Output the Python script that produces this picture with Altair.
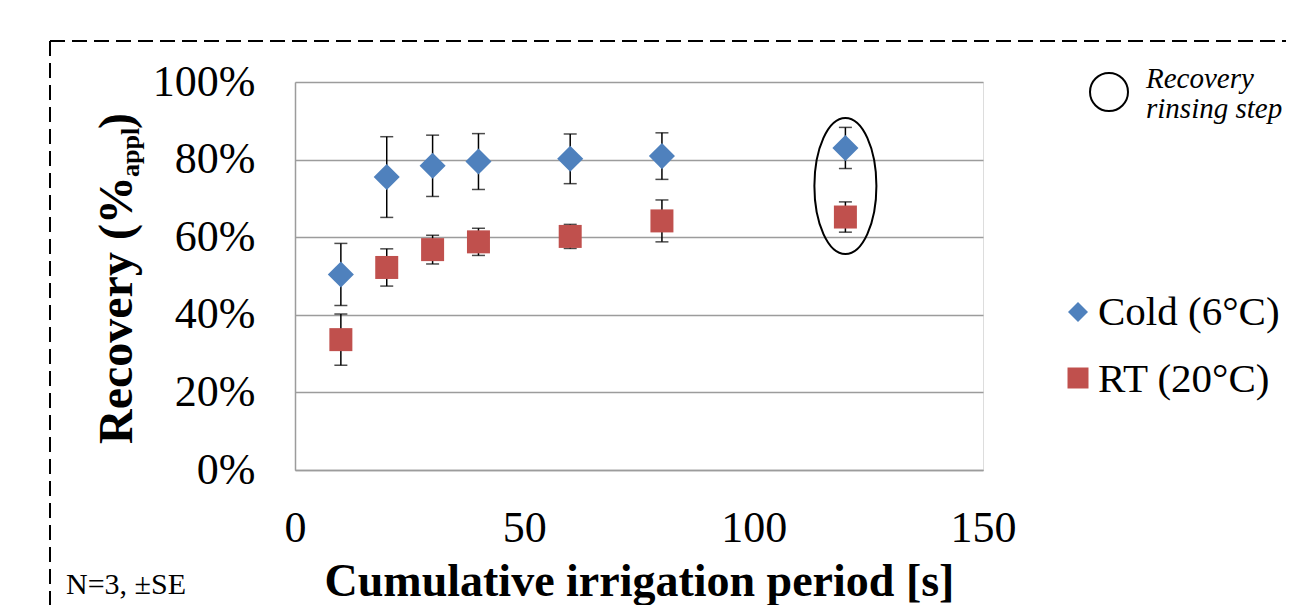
import altair as alt
import pandas as pd

# ---- data ----
period = [10, 20, 30, 40, 60, 80, 120]
cold_mean = [0.504, 0.755, 0.784, 0.795, 0.802, 0.809, 0.830]
cold_se = [0.080, 0.104, 0.079, 0.072, 0.064, 0.060, 0.053]
rt_mean = [0.336, 0.522, 0.568, 0.588, 0.602, 0.642, 0.652]
rt_se = [0.066, 0.048, 0.037, 0.035, 0.031, 0.054, 0.039]
x_ticks = [0, 50, 100, 150]
y_ticks = [0, 0.2, 0.4, 0.6, 0.8, 1.0]
series_names = ["Cold (6°C)", "RT (20°C)"]
highlight_x = [120]
highlight_y = [0.732]

rows = []
for name, means, ses in [(series_names[0], cold_mean, cold_se), (series_names[1], rt_mean, rt_se)]:
    for p, m, s in zip(period, means, ses):
        rows.append({"series": name, "period": p, "mean": m, "lo": m - s, "hi": m + s})
df = pd.DataFrame(rows)
cold_df = df[df.series == series_names[0]]
rt_df = df[df.series == series_names[1]]
hl_df = pd.DataFrame({"period": highlight_x, "mean": highlight_y})
one = pd.DataFrame({"k": [0]})

SERIF = "Liberation Serif"
BLUE = "#4F81BD"
RED = "#C0504D"
GRID = "#9c9c9c"

xs = alt.Scale(domain=[0, 150], nice=False, zero=False)
ys = alt.Scale(domain=[0, 1], nice=False)

x_enc = alt.X("period:Q", scale=xs, axis=alt.Axis(
    values=x_ticks, title="Cumulative irrigation period [s]", grid=False, ticks=False,
    domain=True, domainColor=GRID, domainWidth=1.5, labelFlush=False,
    labelFont=SERIF, labelFontSize=44, labelColor="black", labelPadding=36,
    titleFont=SERIF, titleFontSize=46, titleFontWeight="bold", titleColor="black",
    titleY=125, titleBaseline="alphabetic"))
y_enc = alt.Y("mean:Q", scale=ys, axis=alt.Axis(
    values=y_ticks, format=".0%", title="", grid=True, gridColor=GRID, gridWidth=1.5,
    ticks=False, domain=True, domainColor=GRID, domainWidth=1.5, labelFlush=False,
    labelFont=SERIF, labelFontSize=44, labelColor="black", labelPadding=40))

base = alt.Chart(df)

err_rule = base.mark_rule(color="black", strokeWidth=1.5).encode(
    x=x_enc, y=alt.Y("lo:Q", scale=ys), y2="hi:Q")
cap_lo = base.mark_tick(orient="horizontal", size=13, thickness=1.5, color="black").encode(
    x=alt.X("period:Q", scale=xs), y=alt.Y("lo:Q", scale=ys))
cap_hi = base.mark_tick(orient="horizontal", size=13, thickness=1.5, color="black").encode(
    x=alt.X("period:Q", scale=xs), y=alt.Y("hi:Q", scale=ys))

cold_pts = alt.Chart(cold_df).mark_point(shape="diamond", filled=True, size=680,
                                         color=BLUE, opacity=1).encode(
    x=alt.X("period:Q", scale=xs), y=y_enc)
rt_pts = alt.Chart(rt_df).mark_point(shape="square", filled=True, size=529,
                                     color=RED, opacity=1).encode(
    x=alt.X("period:Q", scale=xs), y=alt.Y("mean:Q", scale=ys))

ellipse = alt.Chart(hl_df).mark_point(
    shape="M0,-1A0.456,1,0,1,1,0,1A0.456,1,0,1,1,0,-1Z",
    filled=False, size=18496, stroke="black", strokeWidth=2, opacity=1).encode(
    x=alt.X("period:Q", scale=xs), y=alt.Y("mean:Q", scale=ys))

deco = alt.Chart(one)

# y-axis title with subscript
yt1 = deco.mark_text(text="Recovery (%", font=SERIF, fontSize=48, fontWeight="bold",
                     angle=270, align="left", baseline="alphabetic", color="black").encode(
    x=alt.value(-163), y=alt.value(362))
yt2 = deco.mark_text(text="appl", font=SERIF, fontSize=26, fontWeight="bold",
                     angle=270, align="left", baseline="alphabetic", color="black").encode(
    x=alt.value(-156), y=alt.value(95))
yt3 = deco.mark_text(text=")", font=SERIF, fontSize=48, fontWeight="bold",
                     angle=270, align="left", baseline="alphabetic", color="black").encode(
    x=alt.value(-163), y=alt.value(47))

# legend
leg_d = deco.mark_point(shape="diamond", filled=True, size=400, color=BLUE, opacity=1).encode(
    x=alt.value(783), y=alt.value(230))
leg_s = deco.mark_point(shape="square", filled=True, size=441, color=RED, opacity=1).encode(
    x=alt.value(783), y=alt.value(296))
leg_t1 = deco.mark_text(text=series_names[0], font=SERIF, fontSize=41, align="left",
                        baseline="alphabetic", color="black").encode(
    x=alt.value(803), y=alt.value(243))
leg_t2 = deco.mark_text(text=series_names[1], font=SERIF, fontSize=41, align="left",
                        baseline="alphabetic", color="black").encode(
    x=alt.value(803), y=alt.value(310))

# annotation: circle = recovery rinsing step
ann_c = deco.mark_point(shape="circle", filled=False, size=1444, stroke="black",
                        strokeWidth=2, opacity=1).encode(x=alt.value(814), y=alt.value(10))
ann_t1 = deco.mark_text(text="Recovery", font=SERIF, fontSize=29, fontStyle="italic",
                        align="left", baseline="alphabetic", color="black").encode(
    x=alt.value(851), y=alt.value(6))
ann_t2 = deco.mark_text(text="rinsing step", font=SERIF, fontSize=29, fontStyle="italic",
                        align="left", baseline="alphabetic", color="black").encode(
    x=alt.value(851), y=alt.value(36))

note = deco.mark_text(text="N=3, ±SE", font=SERIF, fontSize=30, align="left",
                      baseline="alphabetic", color="black").encode(
    x=alt.value(-229), y=alt.value(512))

# dashed frame
frame_top = deco.mark_rule(color="black", strokeWidth=2, strokeDash=[15, 7]).encode(
    x=alt.value(-245), x2=alt.value(1000), y=alt.value(-41))
frame_left = deco.mark_rule(color="black", strokeWidth=2, strokeDash=[15, 7]).encode(
    x=alt.value(-245), y=alt.value(-41), y2=alt.value(530))

chart = alt.layer(
    err_rule, cap_lo, cap_hi, cold_pts, rt_pts, ellipse,
    yt1, yt2, yt3, leg_d, leg_s, leg_t1, leg_t2, ann_c, ann_t1, ann_t2, note,
    frame_top, frame_left
).properties(
    width=688, height=388,
    padding={"left": 287, "top": 74, "right": 303, "bottom": 135},
    autosize=alt.AutoSizeParams(type="none"),
).configure_view(stroke=None).configure(background="white")

chart.save("out.html", embed_options={"renderer": "svg", "actions": False})
